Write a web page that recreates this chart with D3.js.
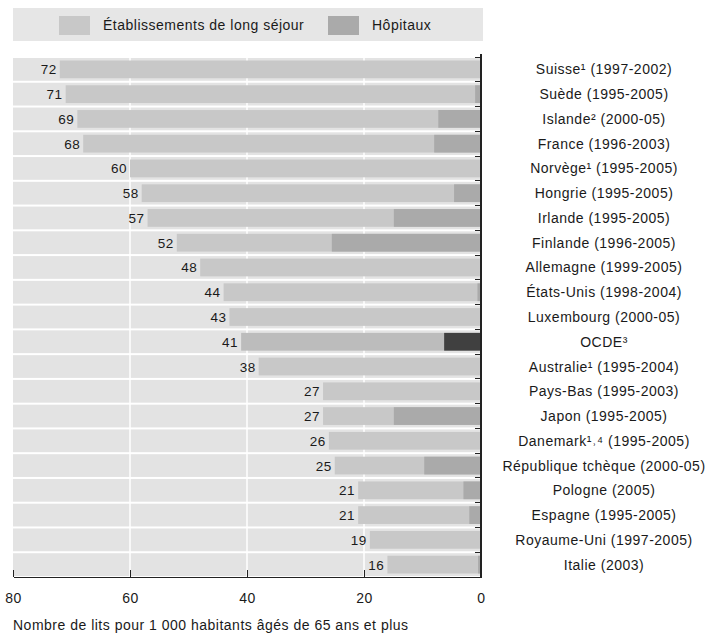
<!DOCTYPE html>
<html lang="fr">
  <head>
    <meta charset="UTF-8"/>
    <title>Lits de long séjour</title>
    <script src="https://d3js.org/d3.v7.min.js"></script>
    <style>
        body {
          margin: 0;
          background: #fff;
        }
        text {
          font-family: "Liberation Sans", Arial, sans-serif;
          fill: #1a1a1a;
          letter-spacing: 0.5px;
        }
        .axis path,
        .axis line {
          stroke: #222;
          shape-rendering: crispEdges;
        }
    </style>
  </head>
  <body>
    <script>
        // country labels, top to bottom
        const countries = [
          "Suisse¹ (1997-2002)", "Suède (1995-2005)", "Islande² (2000-05)",
          "France (1996-2003)", "Norvège¹ (1995-2005)", "Hongrie (1995-2005)",
          "Irlande (1995-2005)", "Finlande (1996-2005)", "Allemagne (1999-2005)",
          "États-Unis (1998-2004)", "Luxembourg (2000-05)", "OCDE³",
          "Australie¹ (1995-2004)", "Pays-Bas (1995-2003)", "Japon (1995-2005)",
          "Danemark¹˒⁴ (1995-2005)", "République tchèque (2000-05)", "Pologne (2005)",
          "Espagne (1995-2005)", "Royaume-Uni (1997-2005)", "Italie (2003)"
        ]
        // total beds per 1 000 aged 65+
        const totals    = [72, 71, 69, 68, 60, 58, 57, 52, 48, 44, 43, 41, 38, 27, 27, 26, 25, 21, 21, 19, 16]
        // hospital part of the total
        const hospitals = [0, 1.0, 7.3, 8.0, 0, 4.6, 14.9, 25.5, 0, 0.6, 0, 6.3, 0, 0, 14.9, 0, 9.7, 3.0, 2.0, 0, 0.5]
        const xTicks = [80, 60, 40, 20, 0]
        const legendLabels = ["Établissements de long séjour", "Hôpitaux"]

        const rows = countries.map((c, i) => ({
          country: c,
          total: totals[i],
          hosp: hospitals[i],
          oecd: c.startsWith("OCDE")
        }))

        const plot = {left: 13, right: 481, top: 57, bottom: 577}

        const svg = d3.select("body").append("svg")
            .attr("width", 712)
            .attr("height", 642)

        // reversed axis: 80 on the left, 0 on the right
        const x = d3.scaleLinear()
            .domain([80, 0])
            .range([plot.left, plot.right])

        const y = d3.scaleBand()
            .domain(countries)
            .range([plot.top, plot.bottom])

        // legend
        const legend = svg.append("g")
        legend.append("rect")
            .attr("x", 13).attr("y", 8)
            .attr("width", 470).attr("height", 33)
            .attr("fill", "#e6e6e6")
        const legendItems = [
          {label: legendLabels[0], color: "#c8c8c8", x: 59},
          {label: legendLabels[1], color: "#aaaaaa", x: 328}
        ]
        legend.selectAll("rect.sw")
            .data(legendItems)
            .join("rect")
            .attr("class", "sw")
            .attr("x", d => d.x).attr("y", 16)
            .attr("width", 31).attr("height", 19)
            .attr("fill", d => d.color)
        legend.selectAll("text")
            .data(legendItems)
            .join("text")
            .attr("x", d => d.x + 44)
            .attr("y", 30)
            .attr("font-size", 14)
            .text(d => d.label)

        // row bands
        svg.append("g").selectAll("rect")
            .data(rows)
            .join("rect")
            .attr("x", plot.left)
            .attr("y", d => y(d.country) + 1)
            .attr("width", plot.right - plot.left)
            .attr("height", y.bandwidth() - 2)
            .attr("fill", "#e3e3e3")

        // white vertical grid lines
        svg.append("g").selectAll("line")
            .data(xTicks.filter(t => t !== 0 && t !== 80))
            .join("line")
            .attr("x1", d => x(d)).attr("x2", d => x(d))
            .attr("y1", plot.top).attr("y2", plot.bottom)
            .attr("stroke", "#fff")
            .attr("stroke-width", 1.5)

        // long-term care part (whole bar), then hospital part on top
        const bars = svg.append("g")
        bars.selectAll("rect.ltc")
            .data(rows)
            .join("rect")
            .attr("class", "ltc")
            .attr("x", d => x(d.total))
            .attr("y", d => y(d.country) + 3.5)
            .attr("width", d => x(0) - x(d.total))
            .attr("height", y.bandwidth() - 7)
            .attr("fill", d => d.oecd ? "#bcbcbc" : "#c8c8c8")
        bars.selectAll("rect.hosp")
            .data(rows.filter(d => d.hosp > 0))
            .join("rect")
            .attr("class", "hosp")
            .attr("x", d => x(d.hosp))
            .attr("y", d => y(d.country) + 3.5)
            .attr("width", d => x(0) - x(d.hosp))
            .attr("height", y.bandwidth() - 7)
            .attr("fill", d => d.oecd ? "#404040" : "#aaaaaa")

        // value labels
        svg.append("g").selectAll("text")
            .data(rows)
            .join("text")
            .attr("x", d => x(d.total) - 3)
            .attr("y", d => y(d.country) + y.bandwidth() / 2 + 5)
            .attr("text-anchor", "end")
            .attr("font-size", 13.5)
            .text(d => d.total)

        // country labels
        svg.append("g").selectAll("text")
            .data(rows)
            .join("text")
            .attr("x", 604)
            .attr("y", d => y(d.country) + y.bandwidth() / 2 + 5)
            .attr("text-anchor", "middle")
            .attr("font-size", 14)
            .text(d => d.country)

        // right axis with ticks at row boundaries
        const rightAxis = svg.append("g").attr("class", "axis")
        rightAxis.append("line")
            .attr("x1", plot.right).attr("x2", plot.right)
            .attr("y1", plot.top - 3).attr("y2", plot.bottom)
            .attr("stroke-width", 1.5)
        rightAxis.selectAll("line.tk")
            .data(countries)
            .join("line")
            .attr("class", "tk")
            .attr("x1", plot.right - 6).attr("x2", plot.right)
            .attr("y1", d => y(d)).attr("y2", d => y(d))

        // bottom axis
        const xAxis = d3.axisBottom(x)
            .tickValues(xTicks)
            .tickSize(0)
            .tickPadding(16)
            .tickFormat(d3.format("d"))
        const bottom = svg.append("g")
            .attr("class", "axis")
            .attr("transform", `translate(0, ${plot.bottom})`)
            .call(xAxis)
        bottom.select(".domain").attr("stroke-width", 1.5)
        bottom.selectAll(".tick text")
            .attr("font-size", 14)
            .attr("font-family", "Liberation Sans, Arial, sans-serif")
        bottom.selectAll(".tick")
            .filter(d => d !== 0)
            .append("line")
            .attr("y1", 0).attr("y2", -7)
            .attr("stroke", "#222")

        svg.append("text")
            .attr("x", 13)
            .attr("y", 630)
            .attr("font-size", 14)
            .text("Nombre de lits pour 1 000 habitants âgés de 65 ans et plus")
    </script>
  </body>
</html>
